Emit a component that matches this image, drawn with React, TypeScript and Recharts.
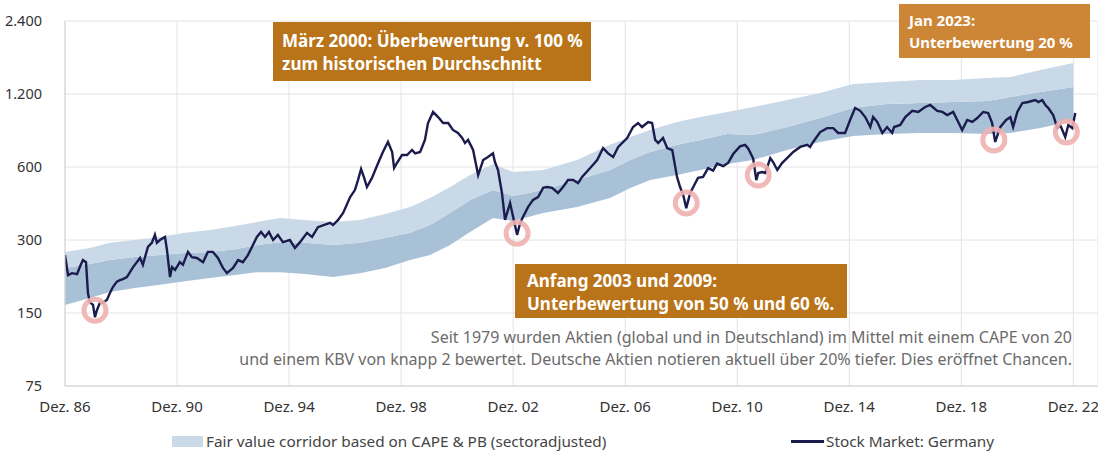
import React from 'react';
import {
  ComposedChart,
  Area,
  Line,
  XAxis,
  YAxis,
  CartesianGrid,
  ReferenceDot,
} from 'recharts';

// x ticks (December of each 4th year) and their labels
const tickYears = [1986.92, 1990.92, 1994.92, 1998.92, 2002.92, 2006.92, 2010.92, 2014.92, 2018.92, 2022.92];
const tickLabels = ['Dez. 86', 'Dez. 90', 'Dez. 94', 'Dez. 98', 'Dez. 02', 'Dez. 06', 'Dez. 10', 'Dez. 14', 'Dez. 18', 'Dez. 22'];
const yTicks = [75, 150, 300, 600, 1200, 2400];

// fair value corridor: top of light band, light/dark boundary, bottom of dark band
const bandYears = [
  1986.92, 1987.81, 1988.52, 1989.42, 1990.31, 1991.2, 1992.1, 1992.99, 1993.77, 1994.6,
  1995.49, 1996.49, 1997.45, 1998.35, 1999.24, 1999.95, 2000.67, 2001.38, 2002.2, 2002.92,
  2003.99, 2005.2, 2006.38, 2007.1, 2007.81, 2008.77, 2009.6, 2010.56, 2011.49, 2012.7,
  2013.88, 2015.06, 2016.27, 2017.45, 2018.63, 2019.85, 2020.67, 2021.74, 2022.92,
];
const bandTop = [
  268, 278, 292, 300, 309, 321, 330, 343, 356, 370,
  363, 356, 363, 384, 410, 447, 496, 556, 617, 572,
  583, 641, 741, 798, 853, 920, 964, 1012, 1061, 1133,
  1211, 1320, 1345, 1371, 1371, 1397, 1410, 1507, 1610,
];
const bandMid = [
  230, 239, 248, 255, 260, 265, 268, 275, 286, 294,
  292, 286, 292, 306, 321, 346, 388, 439, 482, 456,
  482, 530, 583, 641, 692, 741, 776, 821, 813, 877,
  955, 1052, 1091, 1102, 1112, 1123, 1166, 1223, 1282,
];
const bandBottom = [
  162, 173, 183, 190, 196, 203, 209, 215, 221, 221,
  217, 211, 219, 230, 248, 260, 286, 324, 370, 359,
  388, 410, 447, 492, 530, 556, 583, 617, 641, 705,
  761, 805, 821, 829, 829, 821, 829, 869, 928,
];

// Stock Market: Germany
const stockYears = [
  1986.92, 1987.03, 1987.17, 1987.35, 1987.45, 1987.56, 1987.67, 1987.74, 1987.81, 1987.92,
  1987.99, 1988.06, 1988.17, 1988.27, 1988.42, 1988.52, 1988.63, 1988.77, 1988.88, 1988.99,
  1989.13, 1989.35, 1989.6, 1989.7, 1989.88, 1990.02, 1990.13, 1990.2, 1990.31, 1990.49,
  1990.56, 1990.67, 1990.74, 1990.85, 1991.02, 1991.13, 1991.31, 1991.45, 1991.63, 1991.85,
  1992.02, 1992.2, 1992.38, 1992.56, 1992.7, 1992.92, 1993.1, 1993.27, 1993.45, 1993.63,
  1993.77, 1993.92, 1994.06, 1994.2, 1994.35, 1994.52, 1994.7, 1994.95, 1995.13, 1995.31,
  1995.56, 1995.74, 1995.95, 1996.38, 1996.49, 1996.67, 1996.85, 1997.1, 1997.27, 1997.38,
  1997.49, 1997.6, 1997.7, 1997.88, 1998.1, 1998.27, 1998.45, 1998.6, 1998.67, 1998.77,
  1998.95, 1999.13, 1999.31, 1999.42, 1999.6, 1999.77, 1999.88, 2000.06, 2000.24, 2000.42,
  2000.6, 2000.77, 2000.95, 2001.1, 2001.2, 2001.31, 2001.49, 2001.67, 2001.85, 2002.02,
  2002.2, 2002.27, 2002.38, 2002.52, 2002.63, 2002.81, 2002.92, 2003.06, 2003.17, 2003.27,
  2003.45, 2003.63, 2003.81, 2003.99, 2004.13, 2004.31, 2004.52, 2004.7, 2004.88, 2005.06,
  2005.24, 2005.38, 2005.67, 2005.92, 2006.13, 2006.31, 2006.49, 2006.67, 2006.99, 2007.2,
  2007.38, 2007.52, 2007.74, 2007.88, 2007.99, 2008.1, 2008.27, 2008.42, 2008.6, 2008.77,
  2008.88, 2008.99, 2009.1, 2009.24, 2009.35, 2009.52, 2009.7, 2009.88, 2010.06, 2010.2,
  2010.42, 2010.6, 2010.78, 2011.02, 2011.2, 2011.31, 2011.49, 2011.6, 2011.67, 2011.81,
  2011.92, 2012.1, 2012.2, 2012.35, 2012.52, 2012.7, 2012.92, 2013.17, 2013.42, 2013.52,
  2013.63, 2013.88, 2014.13, 2014.35, 2014.52, 2014.77, 2014.95, 2015.13, 2015.31, 2015.49,
  2015.67, 2015.77, 2015.92, 2016.1, 2016.27, 2016.45, 2016.52, 2016.74, 2016.92, 2017.17,
  2017.38, 2017.63, 2017.81, 2018.06, 2018.24, 2018.42, 2018.63, 2018.81, 2018.95, 2019.13,
  2019.31, 2019.49, 2019.7, 2019.88, 2020.02, 2020.13, 2020.31, 2020.52, 2020.67, 2020.77,
  2020.92, 2021.1, 2021.31, 2021.56, 2021.67, 2021.81, 2021.92, 2022.02, 2022.2, 2022.35,
  2022.45, 2022.63, 2022.74, 2022.88, 2022.99,
];
const stockValues = [
  260, 215, 219, 217, 232, 248, 243, 181, 166, 162,
  144, 154, 166, 165, 170, 181, 192, 202, 205, 207,
  211, 232, 253, 237, 281, 292, 315, 292, 300, 309,
  273, 211, 232, 226, 243, 237, 268, 255, 253, 243,
  268, 268, 253, 230, 219, 230, 248, 243, 260, 286,
  309, 324, 309, 324, 300, 315, 294, 300, 278, 294,
  321, 309, 339, 353, 346, 363, 388, 451, 482, 530,
  589, 541, 496, 541, 623, 692, 761, 692, 594, 623,
  672, 672, 705, 683, 692, 776, 911, 1012, 964, 911,
  911, 853, 829, 790, 753, 776, 705, 556, 641, 660,
  683, 629, 583, 469, 363, 426, 373, 315, 353, 373,
  410, 439, 451, 492, 496, 492, 469, 496, 530, 530,
  515, 546, 594, 641, 718, 683, 660, 726, 790, 877,
  911, 877, 920, 911, 776, 753, 790, 718, 705, 546,
  496, 461, 406, 469, 496, 541, 546, 594, 580, 620,
  605, 625, 680, 730, 740, 715, 650, 530, 567, 572,
  567, 653, 629, 583, 623, 653, 692, 726, 741, 726,
  761, 836, 868, 868, 829, 829, 938, 1052, 1023, 964,
  877, 964, 920, 829, 877, 829, 877, 894, 964, 1023,
  1012, 1061, 1081, 1023, 1012, 982, 1012, 920, 853, 938,
  920, 955, 1012, 1002, 911, 761, 877, 938, 964, 877,
  1012, 1102, 1112, 1133, 1112, 1133, 1081, 1052, 982, 868,
  894, 798, 894, 868, 1002,
];

// marked troughs
const troughYears = [1987.99, 2003.06, 2009.1, 2011.67, 2020.08, 2022.67];
const troughValues = [154, 320, 426, 556, 776, 836];

const bandData = bandYears.map((x, i) => ({
  x,
  lower: [bandBottom[i], bandMid[i]],
  upper: [bandMid[i], bandTop[i]],
}));
const stockData = stockYears.map((x, i) => ({ x, v: stockValues[i] }));

const LIGHT = '#c9d9e7';
const DARK = '#a8c1d7';
const NAVY = '#1b1c4d';
const FONT = '"Noto Sans", "Open Sans", sans-serif';

const fmtY = (v: number) => String(v).replace(/\B(?=(\d{3})+(?!\d))/g, '.');
const fmtX = (v: number) => {
  const i = tickYears.findIndex((t) => Math.abs(t - v) < 0.01);
  return i >= 0 ? tickLabels[i] : '';
};

const boxStyle: React.CSSProperties = {
  position: 'absolute',
  color: '#fff',
  fontFamily: FONT,
  fontWeight: 700,
  boxSizing: 'border-box',
  whiteSpace: 'nowrap',
};

export default function App() {
  return (
    <div style={{ position: 'absolute', left: 0, top: 0, width: 1098, height: 452, background: '#fff', fontFamily: FONT }}>
      <ComposedChart width={1098} height={452} margin={{ top: 21, right: 0, bottom: 46, left: 0 }}>
        <CartesianGrid stroke="#e4e4e4" />
        <XAxis
          dataKey="x"
          type="number"
          domain={[1986.92, 2023.8]}
          ticks={tickYears}
          tickFormatter={fmtX}
          allowDataOverflow
          height={20}
          tickLine={false}
          tickMargin={9}
          axisLine={{ stroke: '#d2d2d2' }}
          tick={{ fill: '#333', fontSize: 15, fontFamily: FONT }}
        />
        <YAxis
          type="number"
          scale="log"
          domain={[75, 2400]}
          ticks={yTicks}
          tickFormatter={fmtY}
          allowDataOverflow
          width={65}
          tickLine={false}
          tickMargin={17}
          axisLine={{ stroke: '#d2d2d2' }}
          tick={{ fill: '#333', fontSize: 14.5, fontFamily: FONT }}
        />
        <Area
          data={bandData}
          dataKey="lower"
          type="linear"
          stroke="none"
          fill={DARK}
          fillOpacity={1}
          isAnimationActive={false}
        />
        <Area
          data={bandData}
          dataKey="upper"
          type="linear"
          stroke="none"
          fill={LIGHT}
          fillOpacity={1}
          isAnimationActive={false}
        />
        {troughYears.map((x, i) => (
          <ReferenceDot
            key={x}
            x={x}
            y={troughValues[i]}
            r={11}
            fill="none"
            stroke="#f0b0b0"
            strokeOpacity={0.9}
            strokeWidth={5}
          />
        ))}
        <Line
          data={stockData}
          dataKey="v"
          type="linear"
          stroke={NAVY}
          strokeWidth={2.4}
          dot={false}
          isAnimationActive={false}
        />
      </ComposedChart>

      <div style={{ ...boxStyle, left: 273, top: 22, width: 318, height: 59, background: '#b97318', padding: '7px 0 0 9px', fontSize: 17, lineHeight: '23px' }}>
        März 2000: Überbewertung v. 100 %<br />zum historischen Durchschnitt
      </div>
      <div style={{ ...boxStyle, left: 515, top: 264, width: 332, height: 54, background: '#b97318', padding: '5px 0 0 12px', fontSize: 17, lineHeight: '23px' }}>
        Anfang 2003 und 2009:<br />Unterbewertung von 50 % und 60 %.
      </div>
      <div style={{ ...boxStyle, left: 899, top: 4, width: 191, height: 54, background: '#cd8536', padding: '5px 0 0 10px', fontSize: 15, lineHeight: '22px' }}>
        Jan 2023:<br />Unterbewertung 20 %
      </div>

      <div style={{ position: 'absolute', right: 26, top: 326, textAlign: 'right', color: '#6b6b6b', fontSize: 16, lineHeight: '22px', whiteSpace: 'nowrap' }}>
        Seit 1979 wurden Aktien (global und in Deutschland) im Mittel mit einem CAPE von 20<br />
        und einem KBV von knapp 2 bewertet. Deutsche Aktien notieren aktuell über 20% tiefer. Dies eröffnet Chancen.
      </div>

      <div style={{ position: 'absolute', left: 172, top: 436, width: 31, height: 11, background: LIGHT }} />
      <div style={{ position: 'absolute', left: 206, top: 431, fontSize: 15.3, lineHeight: '20px', color: '#444', whiteSpace: 'nowrap' }}>
        Fair value corridor based on CAPE &amp; PB (sectoradjusted)
      </div>
      <div style={{ position: 'absolute', left: 791, top: 440, width: 33, height: 2.5, background: NAVY }} />
      <div style={{ position: 'absolute', left: 826, top: 431, fontSize: 15.3, lineHeight: '20px', color: '#444', whiteSpace: 'nowrap' }}>
        Stock Market: Germany
      </div>
    </div>
  );
}
